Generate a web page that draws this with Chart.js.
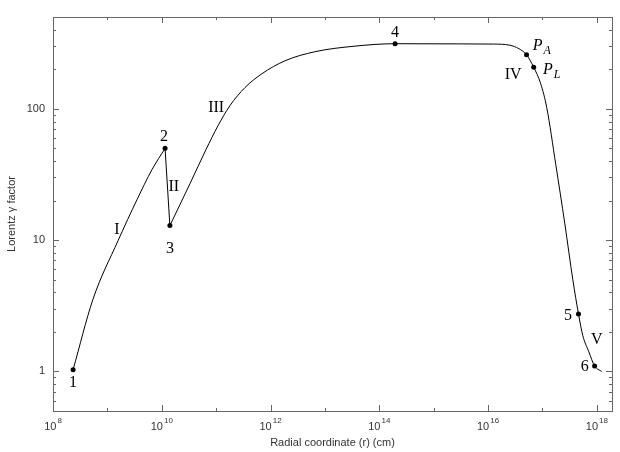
<!DOCTYPE html>
<html>
<head>
<meta charset="utf-8">
<script src="https://cdn.jsdelivr.net/npm/chart.js@4/dist/chart.umd.min.js"></script>
<style>
  html, body { margin: 0; padding: 0; background: #fff; }
  #wrap { width: 620px; height: 452px; }
</style>
</head>
<body>
<div id="wrap"><canvas id="chart" width="620" height="452"></canvas></div>
<script>
// --- data (r in cm, gamma) ---
const segI_r     = [2.34e8, 5.4e8, 1.57e9, 3.5e9, 6.6e9, 1.15e10];
const segI_gamma = [1.03,   3.52,  9.9,    20.3,  34.4,  50];

const segII_r     = [1.15e10, 1.41e10];
const segII_gamma = [50,      12.9];

const segRest_r     = [1.41e10, 3.3e10, 6.5e10, 1.08e11, 1.79e11, 3.38e11, 6.95e11, 1.84e12, 6.55e12, 3.56e13,
                       1.95e14, 3.2e15, 1.26e16, 2.5e16, 3.68e16, 5.1e16, 6.9e16, 9.3e16, 1.2e17,
                       1.76e17, 2.58e17, 3.62e17, 4.6e17, 5.53e17, 7.13e17, 9.1e17, 1.23e18];
const segRest_gamma = [12.9, 26.9, 48.9, 74.3, 105.6, 145, 185, 232, 272, 300,
                       313, 312, 311, 305, 287, 258, 207, 155, 102,
                       37.5, 13.3, 4.99, 2.74, 1.87, 1.41, 1.10, 1.0];

// marked points
const mark_r     = [2.34e8, 1.15e10, 1.41e10, 1.95e14, 5.1e16, 6.9e16, 4.6e17, 9.1e17];
const mark_gamma = [1.03,   50,      12.9,    313,     258,    207,    2.74,   1.10];

// text labels placed in data space
const labelText  = ['1', '2', '3', '4', '5', '6', 'I', 'II', 'III', 'IV', 'V'];
const labelR     = [2.34e8, 1.1e10, 1.41e10, 1.95e14, 2.95e17, 6.0e17, 1.5e9, 1.66e10, 1.0e11, 2.9e16, 1.0e18];
const labelGamma = [0.82, 61.3, 8.6, 380, 2.66, 1.09, 12, 25.5, 102, 182, 1.74];

// italic P labels with subscripts
const pLabelSub   = ['A', 'L'];
const pLabelR     = [6.6e16, 1.02e17];
const pLabelGamma = [302, 199];

// axis ticks
const xMajorTicks = [1e8, 1e10, 1e12, 1e14, 1e16, 1e18];
const xMajorExp   = ['8', '10', '12', '14', '16', '18'];
const xMinorTicks = [1e9, 1e11, 1e13, 1e15, 1e17];
const yMajorTicks = [1, 10, 100];
const yMajorText  = ['1', '10', '100'];
const yMinorTicks = [0.6, 0.7, 0.8, 0.9, 2, 3, 4, 5, 6, 7, 8, 9, 20, 30, 40, 50, 60, 70, 80, 90, 200, 300, 400];

const xTitle = 'Radial coordinate (r) (cm)';
const yTitle = 'Lorentz \u03b3 factor';

const toXY = (xs, ys) => xs.map((x, i) => ({ x: x, y: ys[i] }));

const lineStyle = {
  showLine: true,
  borderColor: '#000',
  borderWidth: 1,
  pointRadius: 0,
  cubicInterpolationMode: 'monotone',
  fill: false
};

// frame, ticks and all texts
const decorPlugin = {
  id: 'decor',
  afterDraw(chart) {
    const ctx = chart.ctx;
    const a = chart.chartArea;
    const xs = chart.scales.x, ys = chart.scales.y;
    ctx.save();

    // ticks (inside, on all four sides)
    ctx.strokeStyle = '#666';
    ctx.lineWidth = 1;
    ctx.beginPath();
    const vt = (v, len) => {
      const px = Math.round(xs.getPixelForValue(v)) + 0.5;
      ctx.moveTo(px, a.bottom); ctx.lineTo(px, a.bottom - len);
      ctx.moveTo(px, a.top); ctx.lineTo(px, a.top + len);
    };
    const ht = (v, len) => {
      const py = Math.round(ys.getPixelForValue(v)) + 0.5;
      ctx.moveTo(a.left, py); ctx.lineTo(a.left + len, py);
      ctx.moveTo(a.right, py); ctx.lineTo(a.right - len, py);
    };
    xMajorTicks.forEach(v => vt(v, 6));
    xMinorTicks.forEach(v => vt(v, 3));
    yMajorTicks.forEach(v => ht(v, 6));
    yMinorTicks.forEach(v => ht(v, 3));
    ctx.stroke();

    // frame
    ctx.strokeRect(Math.round(a.left) + 0.5, Math.round(a.top) + 0.5,
                   Math.round(a.right - a.left), Math.round(a.bottom - a.top));

    // tick labels
    ctx.fillStyle = '#333';
    ctx.textBaseline = 'alphabetic';
    xMajorTicks.forEach((v, i) => {
      const px = xs.getPixelForValue(v);
      ctx.font = '11px "Liberation Sans", Arial, sans-serif';
      const wBase = ctx.measureText('10').width;
      ctx.font = '8px "Liberation Sans", Arial, sans-serif';
      const wExp = ctx.measureText(xMajorExp[i]).width;
      const x0 = px - (wBase + wExp + 1) / 2;
      ctx.textAlign = 'left';
      ctx.font = '11px "Liberation Sans", Arial, sans-serif';
      ctx.fillText('10', x0, a.bottom + 19);
      ctx.font = '8px "Liberation Sans", Arial, sans-serif';
      ctx.fillText(xMajorExp[i], x0 + wBase + 1, a.bottom + 12);
    });
    ctx.font = '11px "Liberation Sans", Arial, sans-serif';
    ctx.textAlign = 'right';
    ctx.textBaseline = 'middle';
    yMajorTicks.forEach((v, i) => {
      ctx.fillText(yMajorText[i], a.left - 8, ys.getPixelForValue(v));
    });

    // axis titles
    ctx.textAlign = 'center';
    ctx.fillText(xTitle, (a.left + a.right) / 2, a.bottom + 32);
    ctx.save();
    ctx.translate(12, (a.top + a.bottom) / 2);
    ctx.rotate(-Math.PI / 2);
    ctx.fillText(yTitle, 0, 0);
    ctx.restore();

    // point and segment labels
    ctx.fillStyle = '#000';
    ctx.font = '16px "Liberation Serif", "Times New Roman", serif';
    ctx.textAlign = 'center';
    ctx.textBaseline = 'middle';
    labelText.forEach((t, i) => {
      ctx.fillText(t, xs.getPixelForValue(labelR[i]), ys.getPixelForValue(labelGamma[i]));
    });

    pLabelSub.forEach((s, i) => {
      const px = xs.getPixelForValue(pLabelR[i]);
      const py = ys.getPixelForValue(pLabelGamma[i]);
      ctx.textAlign = 'left';
      ctx.font = 'italic 16px "Liberation Serif", "Times New Roman", serif';
      ctx.fillText('P', px, py);
      const w = ctx.measureText('P').width;
      ctx.font = 'italic 12px "Liberation Serif", "Times New Roman", serif';
      ctx.fillText(s, px + w + 1, py + 5);
    });

    ctx.restore();
  }
};

new Chart(document.getElementById('chart'), {
  type: 'scatter',
  data: {
    datasets: [
      Object.assign({ data: toXY(segI_r, segI_gamma) }, lineStyle),
      Object.assign({ data: toXY(segII_r, segII_gamma) }, lineStyle, { cubicInterpolationMode: 'default', tension: 0 }),
      Object.assign({ data: toXY(segRest_r, segRest_gamma) }, lineStyle),
      {
        data: toXY(mark_r, mark_gamma),
        showLine: false,
        pointRadius: 2.5,
        pointBackgroundColor: '#000',
        pointBorderColor: '#000',
        pointBorderWidth: 0
      }
    ]
  },
  options: {
    responsive: false,
    animation: false,
    layout: { padding: { top: 17, right: 8, left: 0, bottom: 0 } },
    plugins: { legend: { display: false }, tooltip: { enabled: false } },
    scales: {
      x: {
        type: 'logarithmic',
        min: 1e8,
        max: 1.9e18,
        grid: { display: false },
        border: { display: false },
        ticks: { display: false },
        afterFit: (s) => { s.height = 41; }
      },
      y: {
        type: 'logarithmic',
        min: 0.5,
        max: 500,
        grid: { display: false },
        border: { display: false },
        ticks: { display: false },
        afterFit: (s) => { s.width = 53; }
      }
    }
  },
  plugins: [decorPlugin]
});
</script>
</body>
</html>
